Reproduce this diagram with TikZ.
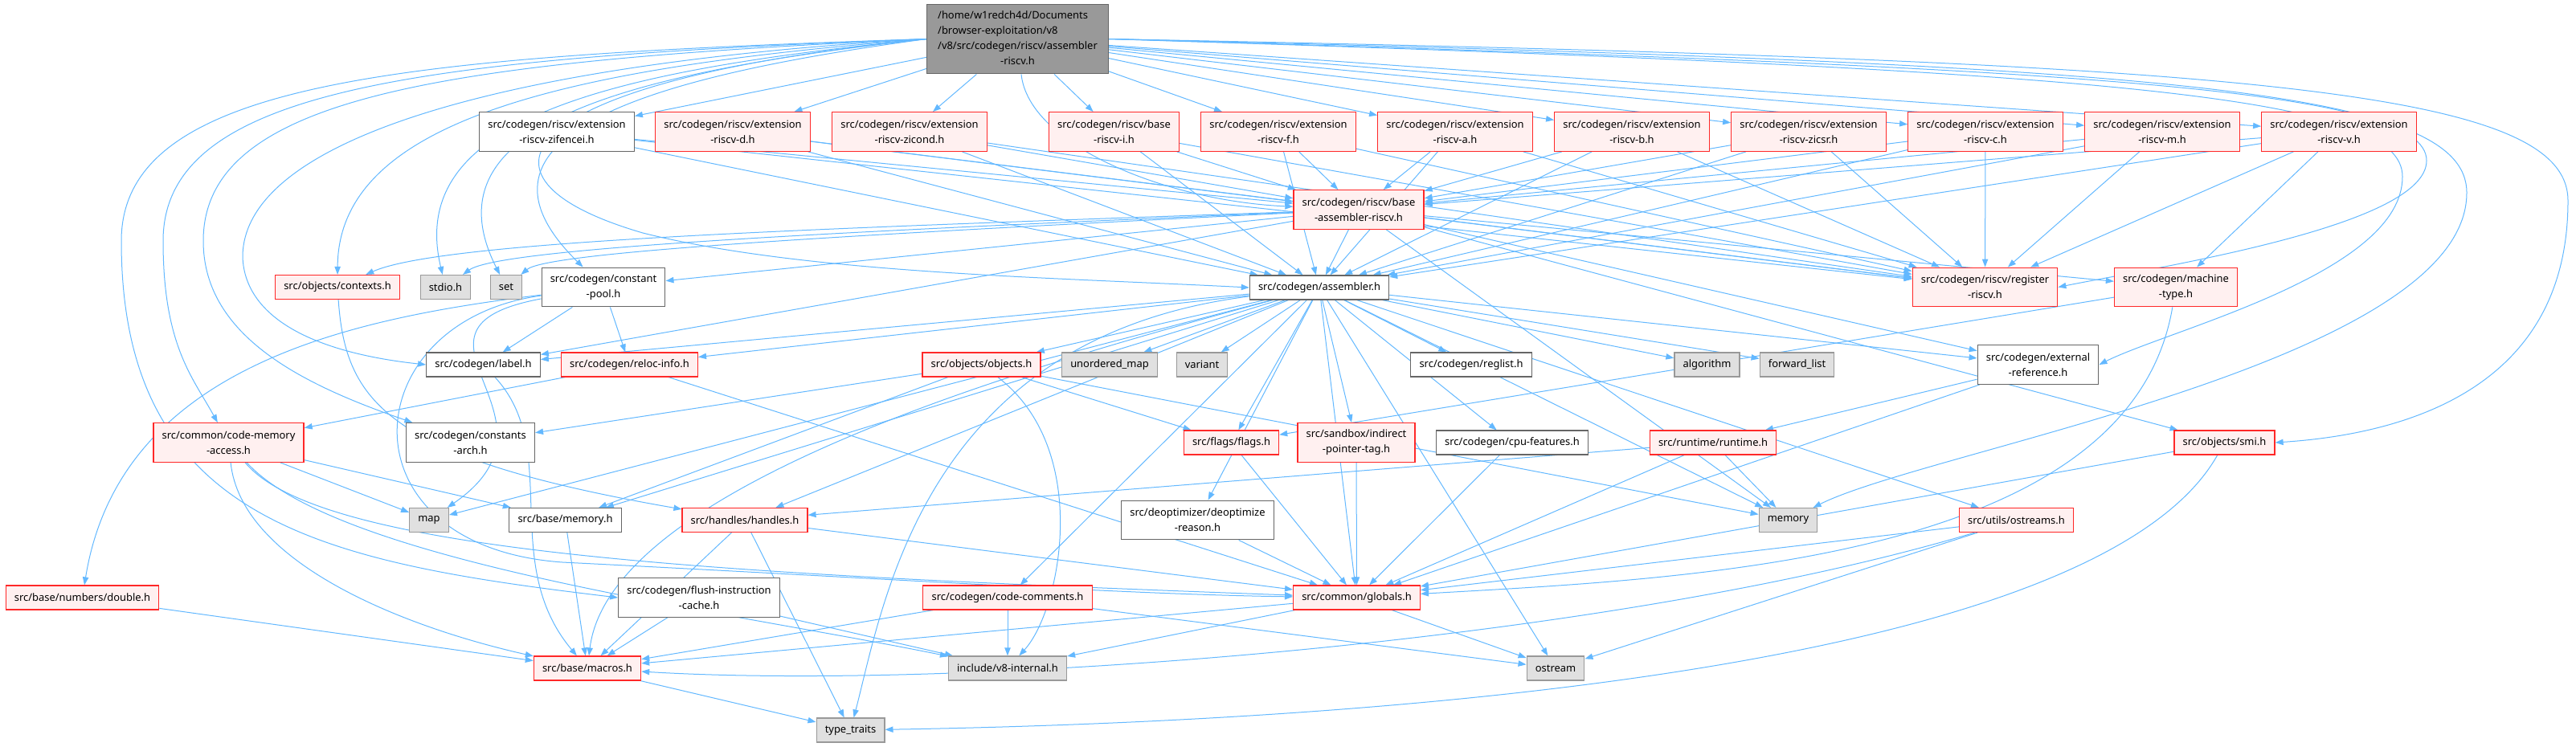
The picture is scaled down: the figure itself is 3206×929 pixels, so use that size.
\documentclass[tikz,border=0pt]{standalone}
\usepackage{fontspec}
\setmainfont{Noto Sans}
\usetikzlibrary{arrows.meta}
\pgfdeclarelayer{background}
\pgfsetlayers{background,main}

\definecolor{incblue}{RGB}{99,184,255}
\definecolor{boxred}{RGB}{255,40,40}
\definecolor{boxpink}{RGB}{255,240,240}
\definecolor{sysgray}{RGB}{153,153,153}
\definecolor{sysfill}{RGB}{224,224,224}
\definecolor{plaingray}{RGB}{102,102,102}
\definecolor{rootfill}{RGB}{153,153,153}

\newcommand\gfont{\fontsize{9.7pt}{14.25pt}\selectfont}

\begin{document}
\begin{tikzpicture}[x=0.75pt,y=-0.75pt,
  box/.style={draw,rectangle,inner xsep=8pt,inner ysep=1pt,minimum height=22.5pt,
    align=center,font=\gfont,line width=0.9pt},
  redbox/.style={box,draw=boxred,fill=boxpink},
  graybox/.style={box,draw=sysgray,fill=sysfill},
  whitebox/.style={box,draw=plaingray,fill=white},
  rootbox/.style={box,draw=plaingray,fill=rootfill,minimum width=169pt,minimum height=65pt},
  twoline/.style={minimum height=36.5pt},
  inc/.style={draw=incblue,line width=0.75pt,-{Triangle[length=7.5pt,width=5.5pt]}}]
  \useasboundingbox (0,0) rectangle (3206,929);

  % top file
  \node[rootbox] (root) at (1266.5,48.5) {\begin{tabular}{@{}l@{}}/home/w1redch4d/Documents\\/browser-exploitation/v8\\/v8/src/codegen/riscv/assembler\\\multicolumn{1}{@{}c@{}}{-riscv.h}\end{tabular}};

  % riscv extensions
  \node[whitebox,twoline] (zif) at (693,164) {src/codegen/riscv/extension\\-riscv-zifencei.h};
  \node[redbox,twoline] (extd) at (912,164) {src/codegen/riscv/extension\\-riscv-d.h};
  \node[redbox,twoline] (zicond) at (1132,164) {src/codegen/riscv/extension\\-riscv-zicond.h};
  \node[redbox,twoline] (basei) at (1386.5,164) {src/codegen/riscv/base\\-riscv-i.h};
  \node[redbox,twoline] (extf) at (1591,164) {src/codegen/riscv/extension\\-riscv-f.h};
  \node[redbox,twoline] (exta) at (1811,164) {src/codegen/riscv/extension\\-riscv-a.h};
  \node[redbox,twoline] (extb) at (2031,164) {src/codegen/riscv/extension\\-riscv-b.h};
  \node[redbox,twoline] (zicsr) at (2251,164) {src/codegen/riscv/extension\\-riscv-zicsr.h};
  \node[redbox,twoline] (extc) at (2471,164) {src/codegen/riscv/extension\\-riscv-c.h};
  \node[redbox,twoline] (extm) at (2691,164) {src/codegen/riscv/extension\\-riscv-m.h};
  \node[redbox,twoline] (extv) at (2911,164) {src/codegen/riscv/extension\\-riscv-v.h};

  \node[redbox,twoline] (baseasm) at (1691,261) {src/codegen/riscv/base\\-assembler-riscv.h};

  \node[redbox] (contexts) at (420,357.5) {src/objects/contexts.h};
  \node[graybox] (stdio) at (554.5,357.5) {stdio.h};
  \node[graybox] (set) at (630,357.5) {set};
  \node[whitebox,twoline] (cpool) at (751,357.5) {src/codegen/constant\\-pool.h};
  \node[whitebox] (assembler) at (1642,358) {src/codegen/assembler.h};
  \node[redbox,twoline] (register) at (2470.5,357.5) {src/codegen/riscv/register\\-riscv.h};
  \node[redbox,twoline] (machtype) at (2708,357.5) {src/codegen/machine\\-type.h};

  \node[whitebox] (label) at (601.5,454) {src/codegen/label.h};
  \node[redbox] (reloc) at (783.5,454) {src/codegen/reloc-info.h};
  \node[redbox] (objects) at (1221.5,454) {src/objects/objects.h};
  \node[graybox] (umap) at (1381,454) {unordered\_map};
  \node[graybox] (variant) at (1496,454) {variant};
  \node[whitebox] (reglist) at (1831,454) {src/codegen/reglist.h};
  \node[graybox] (algorithm) at (2124.5,454) {algorithm};
  \node[graybox] (fwdlist) at (2236.5,454) {forward\_list};
  \node[whitebox,twoline] (extref) at (2536.5,454) {src/codegen/external\\-reference.h};

  \node[redbox,twoline] (cma) at (284.5,551) {src/common/code-memory\\-access.h};
  \node[whitebox,twoline] (carch) at (585.5,551) {src/codegen/constants\\-arch.h};
  \node[redbox] (flags) at (1532.5,551) {src/flags/flags.h};
  \node[redbox,twoline] (iptag) at (1688,551) {src/sandbox/indirect\\-pointer-tag.h};
  \node[whitebox] (cpufeat) at (1882,551) {src/codegen/cpu-features.h};
  \node[redbox] (runtime) at (2132,551) {src/runtime/runtime.h};
  \node[redbox] (smi) at (2768.5,551) {src/objects/smi.h};

  \node[graybox] (map) at (534,647.5) {map};
  \node[whitebox] (memoryh) at (703.5,647.5) {src/base/memory.h};
  \node[redbox] (handles) at (927,647.5) {src/handles/handles.h};
  \node[whitebox,twoline] (deopt) at (1490.5,647.5) {src/deoptimizer/deoptimize\\-reason.h};
  \node[graybox] (memory) at (2225.5,647.5) {memory};
  \node[redbox] (ostreams) at (2509.5,647.5) {src/utils/ostreams.h};

  \node[redbox] (double) at (102.5,744) {src/base/numbers/double.h};
  \node[whitebox,twoline] (fic) at (870,744) {src/codegen/flush-instruction\\-cache.h};
  \node[redbox] (comments) at (1254,744) {src/codegen/code-comments.h};
  \node[redbox] (globals) at (1688.5,744) {src/common/globals.h};

  \node[redbox] (macros) at (731,832) {src/base/macros.h};
  \node[graybox] (v8int) at (1254,832) {include/v8-internal.h};
  \node[graybox] (ostream) at (1936,832) {ostream};

  \node[graybox] (typetraits) at (1058.5,909) {type\_traits};

  \begin{pgfonlayer}{background}
    % from the top file
    \foreach \t in {zif,extd,zicond,basei,extf,exta,extb,zicsr,extc,extm,extv}
      \draw[inc] (root) -- (\t);
    \draw[inc] (root) .. controls (1280,180) and (1450,250) .. (baseasm);
    \draw[inc] (root.west) .. controls (500,70) and (151,100) .. (151,300) .. controls (151,650) and (400,700) .. (fic.west);
    \draw[inc] (root.west) .. controls (520,72) and (203,110) .. (203,300) .. controls (203,430) and (240,470) .. (cma);
    \draw[inc] (root.west) .. controls (550,76) and (253,120) .. (253,300) .. controls (253,420) and (380,480) .. (carch);
    \draw[inc] (root.west) .. controls (600,80) and (302,180) .. (302,320) .. controls (305,400) and (400,440) .. (label.west);
    \draw[inc] (root.west) .. controls (700,84) and (421,150) .. (contexts);
    \draw[inc] (root.west) .. controls (750,88) and (505,150) .. (stdio);
    \draw[inc] (root.west) .. controls (760,92) and (530,160) .. (set);
    \draw[inc] (root.west) .. controls (800,96) and (560,170) .. (cpool);
    \draw[inc] (root.west) .. controls (640,100) and (560,220) .. (800,290) .. controls (1000,340) and (1300,345) .. (assembler.west);
    \draw[inc] (root.east) .. controls (2600,84) and (3020,110) .. (3020,200) .. controls (3020,280) and (2700,330) .. (register.east);
    \draw[inc] (root.east) .. controls (2650,88) and (2990,120) .. (2990,220) .. controls (2990,340) and (2700,410) .. (extref.east);
    \draw[inc] (root.east) .. controls (2700,80) and (3070,110) .. (3070,240) .. controls (3070,450) and (2400,560) .. (memory);
    \draw[inc] (root.east) .. controls (2800,76) and (3196,110) .. (3196,250) .. controls (3196,480) and (3000,540) .. (smi.east);

    % extensions
    \foreach \e in {zif,extd,zicond,basei,extf,exta,extb,zicsr,extc,extm,extv} {
      \draw[inc] (\e) -- (baseasm);
      \draw[inc] (\e) -- (assembler);
      \draw[inc] (\e) -- (register);
    }
    \draw[inc] (extv) -- (machtype);

    % base assembler
    \draw[inc] (baseasm) .. controls (1000,285) and (550,300) .. (contexts);
    \draw[inc] (baseasm) .. controls (1000,290) and (620,310) .. (stdio);
    \draw[inc] (baseasm) .. controls (1000,295) and (680,315) .. (set);
    \foreach \t in {cpool,label,assembler,register,machtype,extref,smi,memory}
      \draw[inc] (baseasm) -- (\t);

    % constant pool
    \draw[inc] (cpool) -- (label);
    \draw[inc] (cpool) -- (reloc);
    \draw[inc] (cpool) .. controls (450,395) and (150,450) .. (double);
    \draw[inc] (cpool) .. controls (470,410) and (720,520) .. (map);
    \draw[inc] (cpool) .. controls (440,400) and (420,680) .. (700,700) .. controls (1100,720) and (1400,740) .. (globals);

    % assembler.h
    \foreach \t in {objects,umap,variant,reglist,algorithm,fwdlist,extref,label,reloc,map,memoryh,handles,
      flags,iptag,cpufeat,deopt,comments,globals,memory,ostreams,ostream}
      \draw[inc] (assembler) -- (\t);
    \draw[inc] (assembler) .. controls (1300,450) and (760,600) .. (macros);
    \draw[inc] (assembler) .. controls (1150,420) and (1100,750) .. (typetraits);

    % the rest
    \draw[inc] (contexts) .. controls (430,500) and (480,570) .. (handles);
    \draw[inc] (label) .. controls (700,560) and (620,700) .. (macros);
    \draw[inc] (reloc) -- (cma);
    \draw[inc] (reloc) -- (globals);
    \draw[inc] (cma) -- (map);
    \draw[inc] (cma) -- (memoryh);
    \draw[inc] (cma) .. controls (300,700) and (500,780) .. (macros);
    \draw[inc] (cma) .. controls (400,690) and (900,715) .. (globals);
    \draw[inc] (cma) .. controls (420,700) and (900,760) .. (v8int);
    \draw[inc] (objects) -- (carch);
    \draw[inc] (objects) -- (memoryh);
    \draw[inc] (objects) -- (flags);
    \draw[inc] (objects) .. controls (1360,560) and (1320,760) .. (v8int);
    \draw[inc] (objects) -- (memory);
    \draw[inc] (double) -- (macros);
    \draw[inc] (fic) -- (macros);
    \draw[inc] (fic) -- (v8int);
    \draw[inc] (memoryh) -- (macros);
    \draw[inc] (handles) -- (macros);
    \draw[inc] (handles) -- (typetraits);
    \draw[inc] (handles) -- (globals);
    \draw[inc] (macros) -- (typetraits);
    \foreach \s in {flags,iptag,cpufeat,deopt}
      \draw[inc] (\s) -- (globals);
    \draw[inc] (comments) -- (macros);
    \draw[inc] (comments) -- (v8int);
    \draw[inc] (comments) -- (ostream);
    \draw[inc] (globals) -- (macros);
    \draw[inc] (globals) -- (v8int);
    \draw[inc] (globals) -- (ostream);
    \draw[inc] (runtime) -- (handles);
    \draw[inc] (runtime) -- (memory);
    \draw[inc] (runtime) -- (globals);
    \draw[inc] (extref) -- (runtime);
    \draw[inc] (extref) -- (globals);
    \draw[inc] (machtype) -- (flags);
    \draw[inc] (machtype) .. controls (2650,700) and (2100,720) .. (globals);
    \draw[inc] (smi) -- (globals);
    \draw[inc] (smi) .. controls (2600,850) and (1600,900) .. (typetraits);
    \draw[inc] (ostreams) -- (globals);
    \draw[inc] (ostreams) -- (ostream);
    \draw[inc] (ostreams) .. controls (2000,800) and (1200,860) .. (macros);
  \end{pgfonlayer}
\end{tikzpicture}
\end{document}
